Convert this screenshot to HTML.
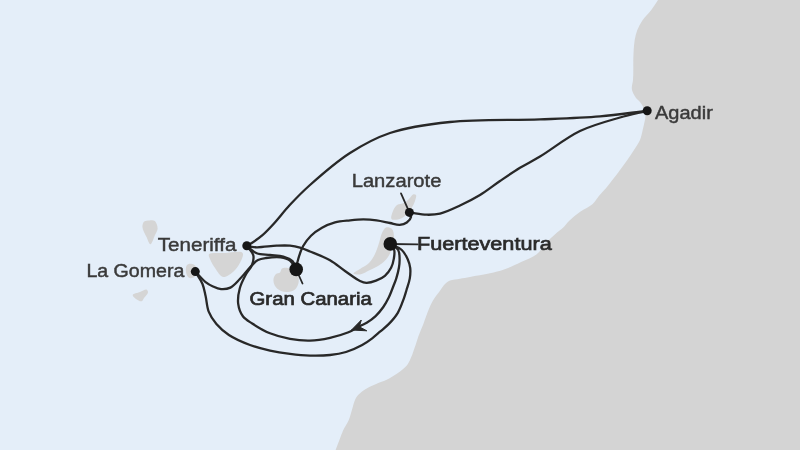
<!DOCTYPE html>
<html><head><meta charset="utf-8">
<style>
html,body{margin:0;padding:0;width:800px;height:450px;overflow:hidden;background:#e4eef9;}
svg{display:block;position:absolute;left:0;top:0;filter:blur(0.3px);}
text{font-family:"Liberation Sans",sans-serif;font-size:18.8px;fill:#3a3a3a;stroke:#3a3a3a;stroke-width:0.45px;}
.b{font-weight:normal;fill:#2a2a2a;stroke:#2a2a2a;stroke-width:0.7px;}
</style></head><body>
<svg width="800" height="450" viewBox="0 0 800 450">
<rect width="800" height="450" fill="#e4eef9"/>
<path fill="#d4d4d4" d="M658.00,0.00 C655.77,3.33 653.78,6.74 651.30,10.00 C648.70,13.41 645.09,16.53 642.70,20.00 C640.49,23.22 638.64,26.58 637.30,30.00 C636.02,33.26 635.30,36.64 634.70,40.00 C634.11,43.31 633.93,46.66 633.70,50.00 C633.47,53.33 633.37,56.67 633.30,60.00 C633.23,63.33 633.35,66.67 633.30,70.00 C633.25,73.33 633.28,76.86 633.00,80.00 C632.75,82.82 631.72,85.80 631.80,88.00 C631.86,89.57 632.16,90.57 632.70,92.00 C633.40,93.84 634.71,96.28 636.00,98.00 C637.17,99.56 638.85,100.61 640.00,102.00 C641.06,103.28 641.91,104.48 642.70,106.00 C643.61,107.75 644.57,109.97 645.00,112.00 C645.42,113.97 645.42,116.35 645.30,118.00 C645.21,119.18 644.97,119.73 644.70,121.00 C644.24,123.20 643.46,126.93 642.70,130.00 C641.90,133.25 641.38,136.76 640.00,140.00 C638.54,143.44 636.10,146.69 634.00,150.00 C631.87,153.36 629.62,156.69 627.30,160.00 C624.95,163.36 622.50,166.63 620.00,170.00 C617.41,173.49 614.50,177.36 612.00,180.60 C609.85,183.39 608.05,185.77 605.90,188.30 C603.69,190.90 601.12,193.38 598.90,196.00 C596.72,198.58 595.39,201.49 592.70,203.90 C589.44,206.82 584.16,208.84 580.20,211.70 C576.26,214.54 572.06,218.03 569.00,221.00 C566.58,223.35 565.21,225.67 563.00,227.80 C560.70,230.01 558.02,231.68 555.40,234.00 C552.38,236.67 549.04,239.74 546.00,243.00 C542.79,246.45 540.59,251.11 536.70,254.20 C532.44,257.58 526.45,259.49 521.10,262.00 C515.56,264.60 509.48,267.56 504.00,269.50 C499.17,271.21 495.11,272.15 490.00,273.30 C483.95,274.66 475.52,275.91 470.00,276.90 C466.09,277.60 463.33,278.10 460.00,278.70 C456.67,279.30 452.67,279.39 450.00,280.50 C447.93,281.36 446.52,282.53 445.00,284.00 C443.32,285.63 442.18,287.71 440.50,290.00 C438.30,293.00 435.14,296.81 433.00,300.50 C430.88,304.15 429.34,308.01 427.70,312.00 C425.99,316.17 424.59,320.86 423.00,325.00 C421.52,328.84 419.78,332.49 418.50,336.00 C417.36,339.13 416.50,342.31 415.60,345.00 C414.86,347.21 414.17,349.08 413.50,351.00 C412.88,352.77 412.51,354.19 411.70,356.10 C410.59,358.69 409.29,362.31 407.20,365.00 C404.93,367.93 401.55,370.44 398.30,372.80 C394.91,375.26 390.97,377.53 387.20,379.40 C383.57,381.20 379.77,382.25 376.10,383.90 C372.37,385.58 368.17,387.37 365.00,389.40 C362.32,391.12 359.83,393.03 358.10,395.00 C356.69,396.60 355.92,397.98 355.00,400.00 C353.77,402.70 352.93,406.67 351.90,410.00 C350.87,413.33 350.19,416.74 348.80,420.00 C347.35,423.41 344.88,426.61 343.30,430.00 C341.76,433.28 340.68,436.66 339.40,440.00 C338.12,443.33 336.87,446.67 335.60,450.00 L800,450 L800,0 Z"/>
<g fill="#d5d5d5">
<path d="M144.20,221.60 C145.38,220.55 147.72,220.58 149.50,220.50 C151.28,220.42 153.58,220.05 154.90,221.10 C156.51,222.38 157.66,226.30 157.60,228.70 C157.54,230.91 156.04,232.72 155.00,235.00 C153.73,237.80 151.90,244.18 150.40,244.20 C149.04,244.22 147.67,239.40 146.40,236.70 C144.99,233.68 142.48,229.68 142.40,226.90 C142.34,224.88 143.00,222.66 144.20,221.60 Z"/>
<path d="M132.70,295.00 C133.04,293.64 137.63,292.94 140.00,292.00 C142.22,291.12 145.19,288.99 146.50,289.50 C147.41,289.85 148.09,291.38 148.00,292.50 C147.87,294.09 145.14,296.39 144.00,298.00 C143.12,299.23 142.81,300.97 141.70,301.30 C140.33,301.71 137.53,300.12 136.00,299.00 C134.59,297.97 132.42,296.10 132.70,295.00 Z"/>
<path d="M187.00,265.00 C187.87,263.99 189.68,263.73 191.00,263.80 C192.35,263.87 194.02,264.46 195.00,265.50 C196.14,266.70 197.04,269.14 197.00,271.00 C196.95,272.97 195.93,275.89 194.50,277.00 C193.18,278.03 190.40,278.52 189.00,277.80 C187.49,277.02 186.35,274.08 186.00,272.00 C185.63,269.83 185.87,266.31 187.00,265.00 Z"/>
<path d="M209.00,254.30 C210.49,252.30 219.66,253.38 225.00,253.00 C230.33,252.62 238.30,250.98 241.00,252.00 C242.13,252.43 242.77,253.00 243.00,254.00 C243.42,255.82 241.52,259.95 240.00,262.80 C238.31,265.97 235.86,269.62 233.00,272.00 C230.20,274.33 226.05,277.55 223.10,277.00 C220.02,276.42 217.24,271.13 215.00,268.00 C212.94,265.11 210.97,261.58 210.00,259.00 C209.34,257.24 208.18,255.40 209.00,254.30 Z"/>
<path d="M282.00,268.50 C283.34,267.59 286.12,267.72 288.00,268.00 C289.78,268.27 291.46,268.88 293.00,270.00 C294.85,271.35 297.10,273.76 298.00,276.00 C298.85,278.12 298.98,280.78 298.50,283.00 C298.01,285.28 296.75,288.00 295.00,289.50 C293.25,291.00 290.36,291.76 288.00,292.00 C285.70,292.23 283.12,291.94 281.00,291.00 C278.77,290.01 276.25,288.06 275.00,286.00 C273.81,284.03 273.23,281.10 273.50,279.00 C273.74,277.15 274.80,275.08 276.00,274.00 C277.05,273.05 279.00,273.40 280.00,272.50 C281.02,271.58 280.84,269.28 282.00,268.50 Z"/>
<path d="M391.50,219.00 C390.46,217.64 392.03,213.39 393.00,211.00 C393.92,208.75 395.17,206.33 397.00,205.00 C398.84,203.66 401.95,204.06 404.00,203.00 C405.92,202.01 407.48,200.44 409.00,199.00 C410.47,197.60 411.62,194.99 413.00,194.50 C413.98,194.15 415.51,194.32 416.00,195.00 C416.69,195.97 415.68,198.91 415.00,201.00 C414.18,203.53 412.65,206.52 411.00,209.00 C409.33,211.52 407.28,214.22 405.00,216.00 C402.90,217.64 400.35,219.04 398.00,219.50 C395.85,219.92 392.43,220.22 391.50,219.00 Z"/>
<path d="M386.00,227.50 C387.64,226.90 390.66,227.66 392.00,229.00 C393.55,230.55 393.91,234.11 394.00,237.00 C394.11,240.36 393.06,244.58 392.00,248.00 C391.01,251.21 389.83,254.34 388.00,257.00 C386.17,259.67 383.77,261.93 381.00,264.00 C377.88,266.33 373.61,268.20 370.00,270.00 C366.62,271.68 363.03,274.09 360.00,274.50 C357.65,274.82 353.69,274.33 353.50,273.50 C353.29,272.59 357.65,270.60 360.00,269.00 C362.75,267.13 366.50,265.50 369.00,263.00 C371.50,260.50 373.35,257.26 375.00,254.00 C376.71,250.61 377.81,246.60 379.00,243.00 C380.13,239.60 380.64,235.75 382.00,233.00 C383.10,230.78 384.28,228.13 386.00,227.50 Z"/>
</g>
<g fill="none" stroke="#282828" stroke-width="2.3" stroke-linecap="round" stroke-linejoin="round">
<path d="M246.80,246.00 C248.97,244.67 251.00,243.56 253.30,242.00 C256.07,240.12 259.17,238.02 262.20,235.40 C265.81,232.27 269.31,228.52 273.30,224.20 C278.39,218.69 284.05,211.18 290.00,204.80 C296.24,198.11 301.96,192.16 310.00,185.00 C320.84,175.35 336.18,161.84 350.00,153.00 C362.91,144.74 374.92,138.04 390.00,133.00 C407.61,127.11 427.88,124.33 450.00,122.00 C476.87,119.17 513.04,120.46 540.00,119.40 C562.03,118.53 581.24,117.98 600.00,116.40 C616.65,114.99 631.33,112.67 647.00,110.80"/>
<path d="M409.50,212.40 C415.23,213.17 421.33,214.56 426.70,214.70 C431.41,214.82 435.21,214.74 440.00,213.60 C446.09,212.15 453.41,208.56 460.00,205.50 C466.74,202.37 473.46,198.98 480.00,195.00 C486.80,190.86 493.30,185.55 500.00,181.00 C506.64,176.49 513.26,171.92 520.00,167.80 C526.60,163.77 532.26,161.15 540.00,156.50 C551.12,149.82 566.25,137.58 580.00,131.00 C592.97,124.79 607.91,121.03 620.00,117.50 C629.82,114.63 638.00,113.03 647.00,110.80"/>
<path d="M409.50,212.30 C410.00,213.87 411.27,215.44 411.00,217.00 C410.68,218.85 408.63,221.20 406.80,222.50 C404.90,223.85 402.27,224.63 399.70,224.80 C396.74,224.99 393.49,223.68 390.00,223.00 C385.89,222.20 381.08,220.90 376.60,220.30 C372.18,219.71 367.73,219.40 363.30,219.40 C358.87,219.40 354.56,219.84 350.00,220.30 C345.14,220.79 339.74,221.02 335.00,222.30 C330.43,223.53 326.03,225.44 322.00,227.70 C318.04,229.92 314.18,232.58 311.00,235.70 C307.86,238.79 305.17,242.29 303.00,246.30 C300.65,250.64 298.84,256.72 297.70,261.00 C296.85,264.18 296.70,266.67 296.20,269.50"/>
<path d="M246.80,246.00 C250.10,246.43 252.82,247.20 256.70,247.30 C262.20,247.44 270.71,245.94 276.70,245.70 C281.58,245.51 285.90,245.29 290.00,245.70 C293.59,246.06 296.71,246.75 300.00,247.70 C303.37,248.67 306.12,249.91 310.00,251.50 C315.55,253.77 323.97,256.87 330.00,260.30 C335.54,263.45 339.97,267.53 345.00,271.00 C349.97,274.43 355.93,279.13 360.00,281.00 C362.47,282.14 364.04,282.73 366.40,282.80 C369.27,282.88 372.94,281.85 376.00,280.70 C379.11,279.53 382.38,277.95 384.90,275.80 C387.41,273.65 389.61,270.69 391.10,267.80 C392.53,265.03 393.29,261.90 393.80,258.90 C394.30,255.96 394.90,252.59 394.20,250.00 C393.57,247.66 391.60,245.93 390.30,243.90"/>
<path d="M246.80,246.00 C250.10,248.43 252.94,251.79 256.70,253.30 C260.63,254.87 265.56,254.47 270.00,255.00 C274.43,255.53 279.35,255.31 283.30,256.50 C286.81,257.56 290.54,258.98 292.70,261.30 C294.69,263.43 295.03,266.77 296.20,269.50"/>
<path d="M195.20,271.50 C198.67,275.03 202.26,279.48 205.60,282.10 C208.14,284.10 210.41,285.33 213.00,286.50 C215.58,287.66 218.28,288.89 221.10,289.10 C224.07,289.32 227.49,289.01 230.40,287.60 C233.79,285.96 237.05,281.79 239.80,279.00 C242.15,276.61 243.93,274.33 246.00,272.00 C248.07,269.67 250.10,267.08 252.20,265.00 C254.10,263.12 255.75,261.16 258.00,260.00 C260.33,258.79 262.90,258.46 266.00,258.00 C270.14,257.39 276.41,256.69 280.70,257.30 C284.21,257.80 287.45,258.57 290.00,260.50 C292.68,262.54 294.13,266.50 296.20,269.50"/>
<path d="M246.80,246.00 C248.97,249.10 252.50,252.00 253.30,255.30 C254.04,258.36 253.13,261.92 252.00,265.00 C250.79,268.27 247.89,270.80 246.00,274.30 C243.78,278.42 241.10,283.40 239.80,288.30 C238.48,293.26 237.57,299.07 238.20,303.90 C238.78,308.34 240.44,312.98 242.90,316.30 C245.21,319.42 248.49,321.06 252.20,323.50 C257.08,326.70 263.74,330.74 270.00,333.30 C276.33,335.89 283.28,337.68 290.00,338.90 C296.61,340.10 303.34,340.78 310.00,340.60 C316.68,340.42 323.58,339.20 330.00,337.80 C336.16,336.46 342.39,334.68 347.80,332.50 C352.66,330.54 357.61,327.38 361.10,325.60 C363.36,324.45 364.68,324.05 366.70,322.80 C369.39,321.13 372.87,318.68 375.60,316.10 C378.42,313.43 381.10,310.13 383.30,307.00 C385.35,304.08 387.07,300.85 388.50,298.00 C389.72,295.56 390.59,293.25 391.50,291.00 C392.34,288.93 393.02,287.05 393.80,285.00 C394.62,282.85 395.53,280.89 396.30,278.40 C397.26,275.31 398.35,271.20 398.90,267.80 C399.39,264.72 399.71,261.86 399.60,258.90 C399.48,255.93 399.66,252.46 398.20,250.00 C396.67,247.41 392.93,245.93 390.30,243.90"/>
<path d="M195.20,271.50 C197.60,275.57 200.66,279.49 202.40,283.70 C204.06,287.70 204.60,291.71 205.60,296.10 C206.72,300.99 206.83,306.95 208.70,311.70 C210.50,316.25 213.18,320.32 216.40,324.10 C219.83,328.13 223.93,331.74 228.90,335.00 C234.80,338.86 242.95,342.36 250.00,345.00 C256.65,347.49 263.29,349.11 270.00,350.60 C276.63,352.07 283.32,353.07 290.00,353.90 C296.65,354.73 303.33,355.42 310.00,355.60 C316.66,355.78 323.73,355.68 330.00,355.00 C335.66,354.39 340.74,353.61 346.00,352.00 C351.48,350.33 357.55,347.54 362.20,345.00 C366.04,342.91 369.13,340.61 372.20,338.30 C375.03,336.17 377.32,334.00 380.00,331.70 C382.88,329.22 386.06,326.87 388.90,323.90 C392.02,320.64 395.34,316.94 397.80,312.80 C400.39,308.45 402.36,302.50 403.90,298.30 C405.04,295.18 405.60,293.00 406.50,290.00 C407.56,286.46 409.19,282.22 409.80,278.40 C410.37,274.82 410.61,271.15 410.20,267.80 C409.81,264.67 408.92,261.77 407.60,258.90 C406.19,255.83 404.46,252.43 401.80,250.00 C398.86,247.31 394.13,245.93 390.30,243.90"/>
<path d="M296.2,269.5 L302.5,283.5" stroke-width="1.8"/>
<path d="M409.5,212.6 L401,193.4" stroke-width="1.8"/>
<path d="M390.3,244 L417.7,244.3" stroke-width="1.8"/>
</g>
<path d="M351.5,330 L361.3,320 L359.3,326.8 L366.8,330.8 Z" fill="#282828" stroke="#282828" stroke-width="1" stroke-linejoin="round"/>
<g fill="#161616">
<circle cx="647.2" cy="110.8" r="4.5"/>
<circle cx="409.4" cy="212.4" r="4.5"/>
<circle cx="390.3" cy="243.9" r="6.8"/>
<circle cx="246.8" cy="245.8" r="4.5"/>
<circle cx="296.2" cy="269.4" r="6.8"/>
<circle cx="195.3" cy="271.6" r="4.5"/>
</g>
<filter id="sf" x="-5%" y="-20%" width="110%" height="140%"><feGaussianBlur stdDeviation="0.15"/></filter>
<g filter="url(#sf)">
<text x="655" y="119.4" textLength="57.8" lengthAdjust="spacingAndGlyphs">Agadir</text>
<text x="351.7" y="187.1" textLength="89.7" lengthAdjust="spacingAndGlyphs">Lanzarote</text>
<text x="157.8" y="250.6" textLength="78.6" lengthAdjust="spacingAndGlyphs">Teneriffa</text>
<text x="86.4" y="276.6" textLength="98.0" lengthAdjust="spacingAndGlyphs">La Gomera</text>
<text class="b" x="417" y="250.1" textLength="134.7" lengthAdjust="spacingAndGlyphs">Fuerteventura</text>
<text class="b" x="249.5" y="304.8" textLength="122.3" lengthAdjust="spacingAndGlyphs">Gran Canaria</text>
</g>
</svg>
</body></html>
